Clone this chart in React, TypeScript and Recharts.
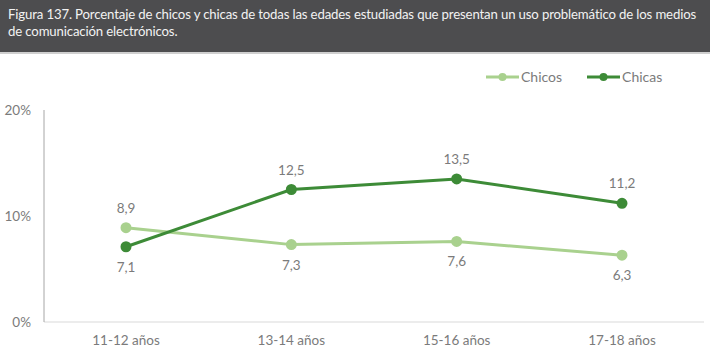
import { LineChart, Line, XAxis, YAxis, LabelList } from 'recharts'

const categories = ['11-12 años', '13-14 años', '15-16 años', '17-18 años']
const chicos = [8.9, 7.3, 7.6, 6.3]
const chicas = [7.1, 12.5, 13.5, 11.2]
// which points get their label above (true) or below (false)
const chicosAbove = [true, false, false, false]
const chicasAbove = [false, true, true, true]
const yTicks = [0, 10, 20]

const data = categories.map((c, i) => ({ cat: c, chicos: chicos[i], chicas: chicas[i] }))

const LIGHT = '#a9d18e'
const DARK = '#3d8b37'
const GREY = '#7b7b7b'
const FONT = 'Lato, "Open Sans", sans-serif'

const makeLabel = (above: boolean[]) => (props: any) => {
  const { x, y, value, index } = props
  const up = above[index]
  return (
    <text
      x={x}
      y={up ? y - 20 : y + 20}
      textAnchor="middle"
      dominantBaseline="central"
      fill={GREY}
      fontSize={13.5}
      fontFamily={FONT}
    >
      {String(value.toFixed(1)).replace('.', ',')}
    </text>
  )
}

function LegendItems() {
  const items = [
    { name: 'Chicos', color: LIGHT },
    { name: 'Chicas', color: DARK },
  ]
  return (
    <div style={{ display: 'flex', gap: 25, fontFamily: FONT, fontSize: 14, color: GREY }}>
      {items.map(it => (
        <div key={it.name} style={{ display: 'flex', alignItems: 'center' }}>
          <svg width={33} height={10} style={{ marginRight: 2 }}>
            <line x1={0} y1={5} x2={33} y2={5} stroke={it.color} strokeWidth={3} />
            <circle cx={16.5} cy={5} r={4} fill={it.color} />
          </svg>
          <span>{it.name}</span>
        </div>
      ))}
    </div>
  )
}

export default function App() {
  return (
    <div style={{ position: 'absolute', left: 0, top: 0, width: 710, height: 357, background: '#fff', overflow: 'hidden' }}>
      <div
        style={{
          position: 'absolute', left: 0, top: 0, width: 710, height: 54,
          background: '#4d4d4f', borderBottom: '2px solid #cfcfcf',
          color: '#f2f2f2', fontFamily: FONT, fontSize: 13.2, letterSpacing: '-0.15px', lineHeight: '17px',
          padding: '6px 0 0 8px', boxSizing: 'border-box', whiteSpace: 'nowrap',
        }}
      >
        <div>Figura 137. Porcentaje de chicos y chicas de todas las edades estudiadas que presentan un uso problemático de los medios</div>
        <div>de comunicación electrónicos.</div>
      </div>
      <div style={{ position: 'absolute', left: 0, top: 0 }}>
        <LineChart width={710} height={357} data={data} margin={{ top: 110, right: 6, bottom: 0, left: 0 }}>
          <XAxis
            dataKey="cat"
            height={35}
            padding={{ left: 82, right: 82 }}
            axisLine={{ stroke: '#d9d9d9' }}
            tickLine={false}
            tickMargin={7}
            tick={{ fill: GREY, fontSize: 13.5, fontFamily: FONT }}
          />
          <YAxis
            width={44}
            domain={[0, 20]}
            ticks={yTicks}
            tickFormatter={v => `${v}%`}
            axisLine={{ stroke: '#a6a6a6' }}
            tickLine={false}
            tickMargin={7}
            tick={{ fill: GREY, fontSize: 13.5, fontFamily: FONT }}
          />
          <Line
            dataKey="chicos"
            name="Chicos"
            stroke={LIGHT}
            strokeWidth={3}
            dot={{ r: 4, fill: LIGHT, stroke: LIGHT }}
            isAnimationActive={false}
          >
            <LabelList dataKey="chicos" content={makeLabel(chicosAbove)} />
          </Line>
          <Line
            dataKey="chicas"
            name="Chicas"
            stroke={DARK}
            strokeWidth={3}
            dot={{ r: 4, fill: DARK, stroke: DARK }}
            isAnimationActive={false}
          >
            <LabelList dataKey="chicas" content={makeLabel(chicasAbove)} />
          </Line>
        </LineChart>
      </div>
      <div style={{ position: 'absolute', left: 486, top: 68 }}>
        <LegendItems />
      </div>
    </div>
  )
}
